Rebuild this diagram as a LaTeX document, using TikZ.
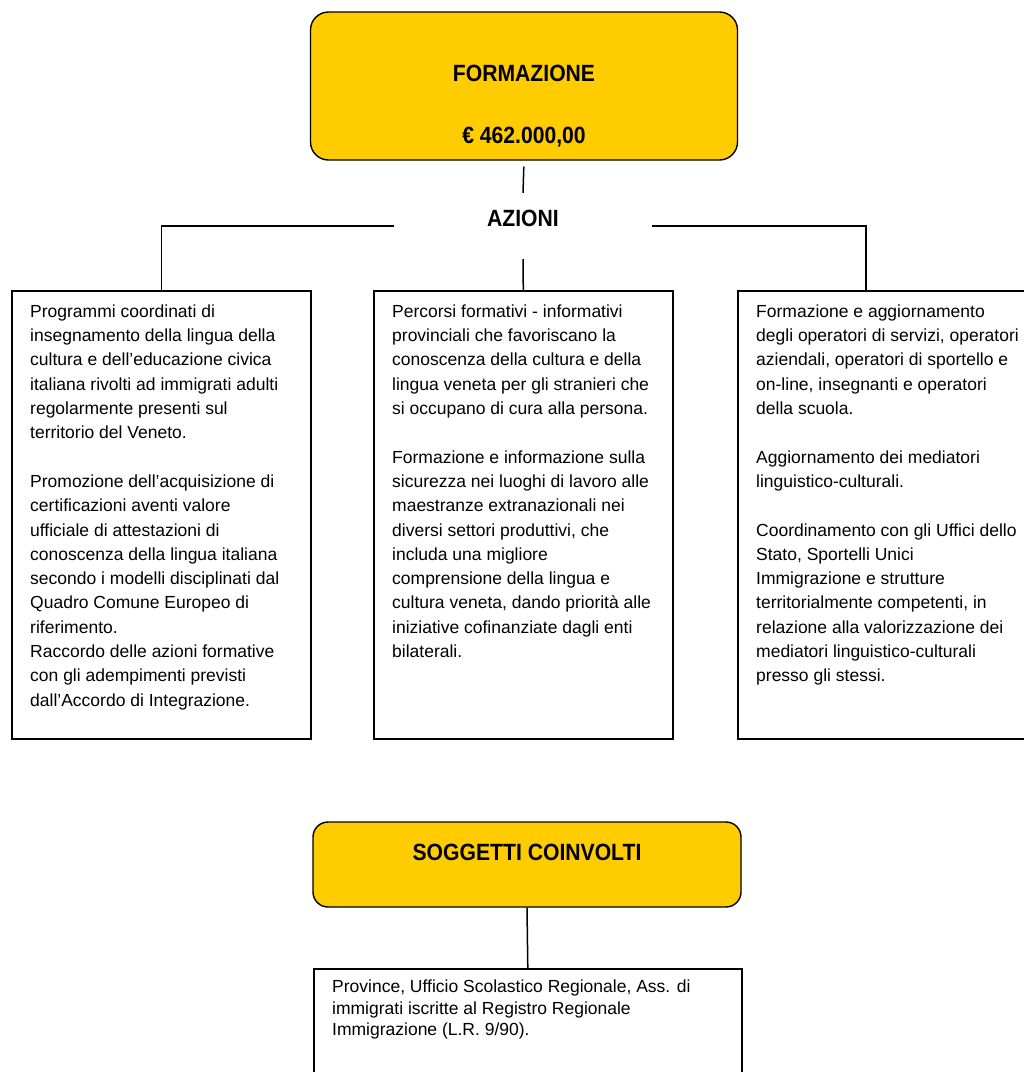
\documentclass[tikz,border=0pt]{standalone}
\usepackage{fontspec}
\setmainfont{Liberation Sans}
\newfontfamily\headfont[FakeStretch=0.9]{Liberation Sans}
\usetikzlibrary{positioning}
\definecolor{gold}{HTML}{FFCC00}
\tikzset{
  headbox/.style={
    rectangle,
    rounded corners=18pt,
    draw=black,
    line width=1.4pt,
    fill=gold
  },
  actbox/.style={
    rectangle,
    draw=black,
    line width=1.6pt,
    minimum width=299pt,
    minimum height=448pt,
    anchor=north west
  },
  title/.style={
    font=\headfont\fontsize{23.5}{27}\selectfont\bfseries,
    inner sep=0pt
  },
  body/.style={
    font=\fontsize{17.5}{24.3}\selectfont,
    align=left,
    inner sep=0pt,
    anchor=north west
  },
  link/.style={line width=1.5pt}
}

\begin{document}
\begin{tikzpicture}[x=1pt,y=-1pt]
  \useasboundingbox (0,0) rectangle (1024,1072);
  % budget
  \node (formazione) [headbox, minimum width=427pt, minimum height=148pt] at (524,86) {};
  \node (formtitle) [title] at (524,73) {FORMAZIONE};
  \node (budget) [title] at (524,137) {€ 462.000,00};
  % actions
  \node (azioni) [title, text height=16pt, text depth=16pt,
    minimum width=258pt, minimum height=66pt] at (523,226) {AZIONI};
  \node (left) [actbox] at (11,290) {};
  \node (middle) [actbox] at (373,290) {};
  \node (right) [actbox, minimum width=300pt] at (737,290) {};
  \draw[link, shorten <=6pt] (formazione.south) -- (azioni.north);
  \draw[link] (azioni.west) -| (left.north);
  \draw[link] (azioni.south) -- (middle.north);
  \draw[link] (azioni.east) -| ([xshift=129pt]right.north west);
  \node (lefttext) [body] at ([shift={(19,14.5)}]left.north west) {%
    Programmi coordinati di\\
    insegnamento della lingua della\\
    cultura e dell’educazione civica\\
    italiana rivolti ad immigrati adulti\\
    regolarmente presenti sul\\
    territorio del Veneto.\\[24.3pt]
    Promozione dell’acquisizione di\\
    certificazioni aventi valore\\
    ufficiale di attestazioni di\\
    conoscenza della lingua italiana\\
    secondo i modelli disciplinati dal\\
    Quadro Comune Europeo di\\
    riferimento.\\
    Raccordo delle azioni formative\\
    con gli adempimenti previsti\\
    dall’Accordo di Integrazione.};
  \node (middletext) [body] at ([shift={(19,14.5)}]middle.north west) {%
    Percorsi formativi - informativi\\
    provinciali che favoriscano la\\
    conoscenza della cultura e della\\
    lingua veneta per gli stranieri che\\
    si occupano di cura alla persona.\\[24.3pt]
    Formazione e informazione sulla\\
    sicurezza nei luoghi di lavoro alle\\
    maestranze extranazionali nei\\
    diversi settori produttivi, che\\
    includa una migliore\\
    comprensione della lingua e\\
    cultura veneta, dando priorità alle\\
    iniziative cofinanziate dagli enti\\
    bilaterali.};
  \node (righttext) [body] at ([shift={(19,14.5)}]right.north west) {%
    Formazione e aggiornamento\\
    degli operatori di servizi, operatori\\
    aziendali, operatori di sportello e\\
    on-line, insegnanti e operatori\\
    della scuola.\\[24.3pt]
    Aggiornamento dei mediatori\\
    linguistico-culturali.\\[24.3pt]
    Coordinamento con gli Uffici dello\\
    Stato, Sportelli Unici\\
    Immigrazione e strutture\\
    territorialmente competenti, in\\
    relazione alla valorizzazione dei\\
    mediatori linguistico-culturali\\
    presso gli stessi.};
  % partners
  \node (soggetti) [headbox, rounded corners=15pt, minimum width=428pt, minimum height=85pt] at (527,864.5) {};
  \node (soggtitle) [title] at (527,852) {SOGGETTI COINVOLTI};
  \node (enti) [actbox, minimum width=428pt, minimum height=140pt] at (313,968) {};
  \draw[link] (soggetti.south) -- (enti.north);
  \node (entitext) [body, font=\fontsize{17.5}{21.5}\selectfont] at ([shift={(19,12)}]enti.north west) {%
    Province, Ufficio Scolastico Regionale, Ass. di\\
    immigrati iscritte al Registro Regionale\\
    Immigrazione (L.R. 9/90).};
\end{tikzpicture}
\end{document}
